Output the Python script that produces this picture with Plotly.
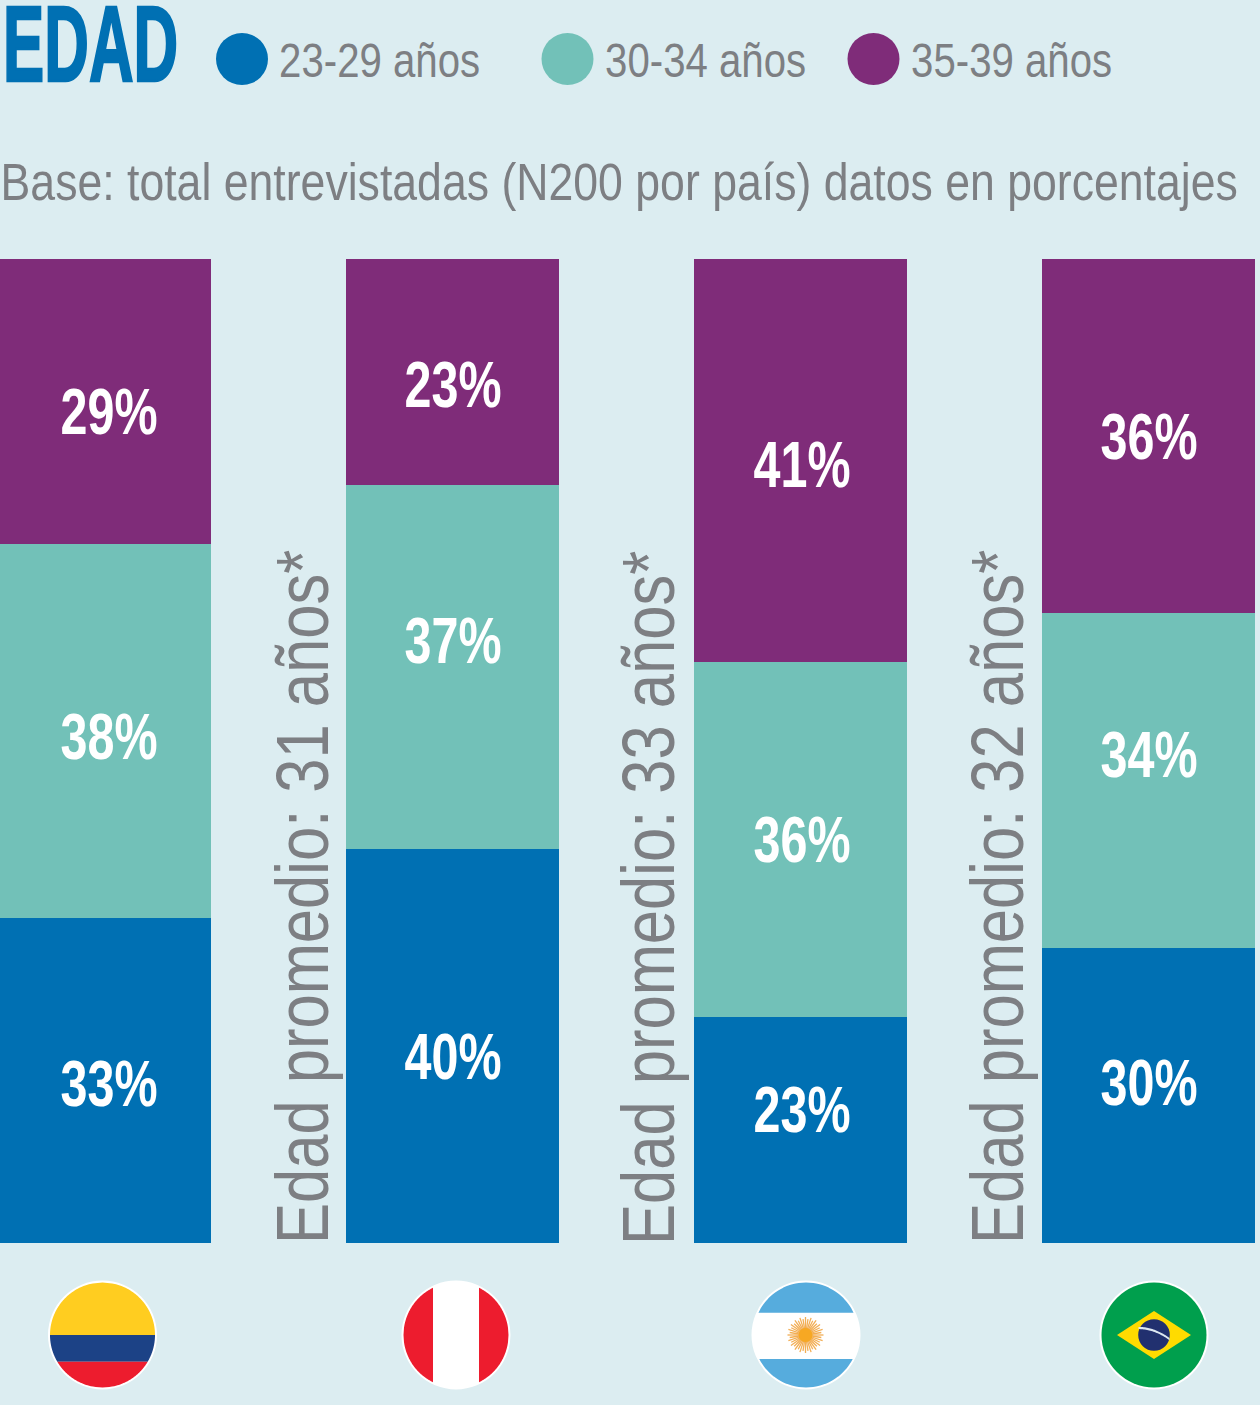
import json
import numpy as np
import plotly.graph_objects as go

W, H = 1260, 1405
BG = "#DCEDF1"
BLUE, TEAL, PURPLE = "#0070B3", "#72C1B8", "#7F2C79"
GREY = "#7D7F83"
FONT = "Liberation Sans, Arial, sans-serif"

countries = ["Colombia", "Perú", "Argentina", "Brasil"]
age_groups = ["23-29 años", "30-34 años", "35-39 años"]
v_23_29 = [33, 40, 23, 30]
v_30_34 = [38, 37, 36, 34]
v_35_39 = [29, 23, 41, 36]
avg_age = [None, 31, 33, 32]
title_text = "EDAD"
subtitle = "Base: total entrevistadas (N200 por país) datos en porcentajes"

# label nudges in pixels (placement only, per series / per country)
label_dx = [4.5, 0, 1.5, 0]
label_dy = {BLUE: [3, 11, -20, -12], TEAL: [6, -26, 0, -26], PURPLE: [10, 13, 4, 1]}
avg_x = [None, 303, 649, 998]
legend_x = [242, 567.5, 873.5]


def px(x):
    return x / W


def py(y):
    return 1 - y / H


def paper_note(x, y, text, **kw):
    fig.add_annotation(xref="paper", yref="paper", x=px(x), y=py(y), xanchor="center", yanchor="middle",
                       text=text, showarrow=False, **kw)


text_len = {title_text: 175, subtitle: 1237}
fig = go.Figure()
bottoms = [0, 0, 0, 0]
for name, vals, col in zip(age_groups, [v_23_29, v_30_34, v_35_39], [BLUE, TEAL, PURPLE]):
    fig.add_bar(x=countries, y=vals, name=name, marker=dict(color=col, line_width=0), showlegend=False)
    for i, v in enumerate(vals):
        fig.add_annotation(x=countries[i], y=bottoms[i] + v / 2, text=f"{v}%", showarrow=False,
                           xanchor="center", yanchor="middle",
                           xshift=label_dx[i], yshift=-label_dy[col][i],
                           font=dict(family=FONT, size=64, color="white", weight="bold"))
        text_len[f"{v}%"] = 97
        bottoms[i] += v

for i, a in enumerate(avg_age):
    if a is None:
        continue
    t = f"Edad promedio: {a} años*"
    text_len[t] = 694
    paper_note(avg_x[i], 897.5, t, textangle=-90, font=dict(family=FONT, size=74, color=GREY))

shapes = []


def circle(cx, cy, r, fill):
    shapes.append(dict(type="circle", xref="paper", yref="paper",
                       x0=px(cx - r), x1=px(cx + r), y0=py(cy + r), y1=py(cy - r),
                       fillcolor=fill, line_width=0))


def poly(points, fill):
    d = "M " + " L ".join(f"{px(x):.5f},{py(y):.5f}" for x, y in points) + " Z"
    shapes.append(dict(type="path", xref="paper", yref="paper", path=d, fillcolor=fill, line_width=0))


def hseg(cx, cy, r, y0, y1, fill):
    ys = np.linspace(y0, y1, 60)
    left = [(cx - np.sqrt(max(r * r - (y - cy) ** 2, 0)), y) for y in ys]
    right = [(cx + np.sqrt(max(r * r - (y - cy) ** 2, 0)), y) for y in ys[::-1]]
    poly(left + right, fill)


def vseg(cx, cy, r, x0, x1, fill):
    xs = np.linspace(x0, x1, 60)
    top = [(x, cy - np.sqrt(max(r * r - (x - cx) ** 2, 0))) for x in xs]
    bot = [(x, cy + np.sqrt(max(r * r - (x - cx) ** 2, 0))) for x in xs[::-1]]
    poly(top + bot, fill)


R_OUT, R_IN = 54.5, 52.5
# Colombia
cx, cy = 102.5, 1335
circle(cx, cy, R_OUT, "white")
hseg(cx, cy, R_IN, cy - R_IN, 1335, "#FFCD20")
hseg(cx, cy, R_IN, 1335, 1361.7, "#1C4286")
hseg(cx, cy, R_IN, 1361.7, cy + R_IN, "#ED1C2E")
# Perú
cx, cy = 456, 1335
circle(cx, cy, R_OUT, "white")
vseg(cx, cy, R_IN, cx - R_IN, 433, "#ED1C2E")
vseg(cx, cy, R_IN, 479, cx + R_IN, "#ED1C2E")
# Argentina
cx, cy = 806, 1335
circle(cx, cy, R_OUT, "white")
hseg(cx, cy, R_IN, cy - R_IN, 1312.7, "#56ACDD")
hseg(cx, cy, R_IN, 1359, cy + R_IN, "#56ACDD")
for k in np.arange(40):
    t = k * np.pi / 20
    R = 18 if k % 2 == 0 else 16
    shapes.append(dict(type="line", xref="paper", yref="paper", x0=px(cx - 0.5), y0=py(cy), x1=px(cx - 0.5 + R * np.cos(t)),
                       y1=py(cy + R * np.sin(t)), line=dict(color="#F2AE55", width=1.3)))
circle(cx - 0.5, cy, 7, "#F7A823")
# Brasil
cx, cy = 1154, 1335
circle(cx, cy, R_OUT, "white")
circle(cx, cy, R_IN, "#009F4D")
poly([(cx - 37, cy), (cx, cy - 24), (cx + 37, cy), (cx, cy + 24)], "#FFDB00")
circle(cx, cy, 15.8, "#21306F")
ts = np.linspace(-15.5, 15.5, 30)
poly([(cx + t, cy - 7 + 0.0115 * (t + 15.5) ** 2 - 1.1) for t in ts] + [(cx + t, cy - 7 + 0.0115 * (t + 15.5) ** 2 + 1.1) for t in ts[::-1]], "#DDE8F2")

# Legend
for lab, col, lx in zip(age_groups, [BLUE, TEAL, PURPLE], legend_x):
    circle(lx, 59, 26, col)
    text_len[lab] = 201
    paper_note(lx + 137.5, 60, lab, font=dict(family=FONT, size=49, color=GREY))

paper_note(90.5, 44, title_text, font=dict(family=FONT, size=107, color=BLUE, weight="bold"))
paper_note(618.5, 182, subtitle, font=dict(family=FONT, size=52, color=GREY))

spacing = 348
fig.update_layout(
    width=W, height=H, autosize=False, barmode="stack", bargap=1 - 213 / spacing,
    margin=dict(l=0, r=0, t=0, b=0), paper_bgcolor=BG, plot_bgcolor=BG, shapes=shapes,
    xaxis=dict(visible=False, type="category", categoryorder="array", categoryarray=countries,
               range=[-104.5 / spacing, (W - 104.5) / spacing], domain=[0, 1], fixedrange=True),
    yaxis=dict(visible=False, range=[0, 100], domain=[(H - 1243) / H, (H - 259) / H], fixedrange=True),
)

# The reference uses a condensed face that is not installed: scale the real text to its measured length.
post = """
document.body.style.margin = '0';
document.body.style.background = '%s';
var LEN = %s;
var TITLE = %s;
function squeeze() {
  document.querySelectorAll('.annotation-text').forEach(function (t) {
    var L = LEN[t.textContent];
    if (L) {
      var k = L / t.getComputedTextLength();
      var cx = parseFloat(t.getAttribute('x')) || 0;
      t.setAttribute('transform', 'translate(' + cx + ' 0) scale(' + k + ' 1) translate(' + (-cx) + ' 0)');
    }
    if (t.textContent === TITLE) { t.style.stroke = t.style.fill; t.style.strokeWidth = '2.5px'; }
    var bg = t.parentNode.querySelector('rect.bg');
    if (bg) { bg.remove(); }
  });
}
squeeze();
var gd = document.getElementById('{plot_id}');
if (gd && gd.on) { gd.on('plotly_afterplot', squeeze); }
setTimeout(squeeze, 0);
""" % (BG, json.dumps(text_len, ensure_ascii=False), json.dumps(title_text))
fig.write_html("out.html", config=dict(displayModeBar=False), post_script=post)
